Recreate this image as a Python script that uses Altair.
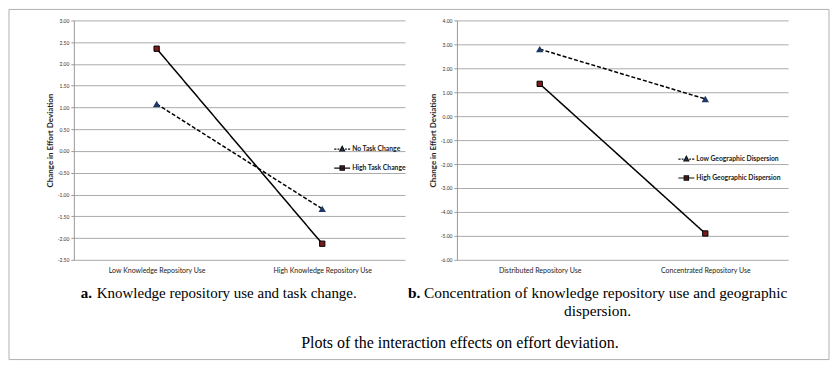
import altair as alt
import pandas as pd

# ---- data ----
cats_a = ["Low Knowledge Repository Use", "High Knowledge Repository Use"]
series_a = ["No Task Change", "High Task Change"]
no_task_change = [1.08, -1.33]
high_task_change = [2.35, -2.13]
ticks_a = [3.0, 2.5, 2.0, 1.5, 1.0, 0.5, 0.0, -0.5, -1.0, -1.5, -2.0, -2.5]

cats_b = ["Distributed Repository Use", "Concentrated Repository Use"]
series_b = ["Low Geographic Dispersion", "High Geographic Dispersion"]
low_geo = [2.80, 0.72]
high_geo = [1.35, -4.90]
ticks_b = [4, 3, 2, 1, 0, -1, -2, -3, -4, -5, -6]

y_title = "Change in Effort Deviation"
cap_a_bold = "a."
cap_a_text = "Knowledge repository use and task change."
cap_b_bold = "b."
cap_b_text1 = "Concentration of knowledge repository use and geographic"
cap_b_text2 = "dispersion."
cap_main = "Plots of the interaction effects on effort deviation."

NAVY = "#1f3864"
DARKRED = "#7a1c1c"
GRID = "#ababab"
SANS = "Lato"
SERIF = "Liberation Serif"

# legend symbols: line stub + marker
SYM_DASH_TRI = ("M-1,0H-0.72M-0.58,0H-0.36M0.36,0H0.58M0.72,0H1"
                "M0,-0.34L0.3,0.24L-0.3,0.24Z")
SYM_SOLID_SQ = "M-1,0H1M-0.27,-0.27H0.27V0.27H-0.27Z"


def make_df(cats, series, dashed_vals, solid_vals):
    rows = []
    for c, v in zip(cats, dashed_vals):
        rows.append({"cat": c, "series": series[0], "value": v})
    for c, v in zip(cats, solid_vals):
        rows.append({"cat": c, "series": series[1], "value": v})
    return pd.DataFrame(rows)


def panel(cats, series, dashed_vals, solid_vals, domain, ticks, lx, ly, extra):
    df = make_df(cats, series, dashed_vals, solid_vals)
    x = alt.X("cat:N", sort=cats,
              scale=alt.Scale(domain=cats, padding=0.5),
              axis=alt.Axis(title=None, domain=False, ticks=False, grid=False,
                            labelAngle=0, labelFont=SANS, labelFontSize=7,
                            labelColor="#222222", labelPadding=7))
    y = alt.Y("value:Q",
              scale=alt.Scale(domain=domain, nice=False, zero=False),
              axis=alt.Axis(values=ticks, title=y_title, titleFont=SANS,
                            titleFontSize=8, titleFontWeight="bold",
                            titleColor="#222222", titlePadding=3,
                            labelFont=SANS, labelFontSize=5, labelColor="#333333",
                            labelExpr="replace(format(datum.value, '.2f'), '\u2212', '-')",
                            labelPadding=2, grid=True, gridColor=GRID,
                            gridWidth=1, domainColor="#999999",
                            tickColor="#999999", tickSize=3))
    base = alt.Chart(df)
    lines = base.mark_line(color="black", strokeWidth=1.5).encode(
        x=x, y=y,
        strokeDash=alt.StrokeDash("series:N",
                                  scale=alt.Scale(domain=series, range=[[4, 2], [1, 0]]),
                                  legend=None))
    tri = base.transform_filter(alt.datum.series == series[0]).mark_point(
        shape="triangle-up", filled=True, size=55, color=NAVY, opacity=1
    ).encode(x=x, y=y)
    sq = base.transform_filter(alt.datum.series == series[1]).mark_point(
        shape="square", filled=True, size=28, fill=DARKRED, stroke="black",
        strokeWidth=1, opacity=1
    ).encode(x=x, y=y)
    leg = alt.Legend(title=None, orient="none", legendX=lx, legendY=ly,
                     symbolSize=256, symbolStrokeWidth=1.2, symbolOpacity=1,
                     labelFont=SANS, labelFontSize=6.8, labelFontWeight="bold",
                     labelColor="#222222", rowPadding=5, labelOffset=1)
    legend_layer = base.mark_point(filled=False, opacity=0, strokeWidth=1.2).encode(
        x=x, y=y,
        shape=alt.Shape("series:N",
                        scale=alt.Scale(domain=series, range=[SYM_DASH_TRI, SYM_SOLID_SQ]),
                        legend=leg),
        color=alt.Color("series:N",
                        scale=alt.Scale(domain=series, range=["#111111", "#111111"]),
                        legend=leg),
        fill=alt.Fill("series:N",
                      scale=alt.Scale(domain=series, range=[NAVY, DARKRED]),
                      legend=leg))
    return alt.layer(lines, tri, sq, legend_layer, *extra).properties(
        width=332, height=240)


one = alt.Data(values=[{}])

frame = alt.Chart(one).mark_rect(fill="transparent", stroke="#b0b0b0",
                                 strokeWidth=1).encode(
    x=alt.value(-65), x2=alt.value(757), y=alt.value(-11), y2=alt.value(340))

cap_a1 = alt.Chart(one).mark_text(text=cap_a_bold, font=SERIF, fontSize=15,
                                  fontWeight="bold", align="left",
                                  baseline="alphabetic", color="black").encode(
    x=alt.value(7), y=alt.value(278))
cap_a2 = alt.Chart(one).mark_text(text=cap_a_text, font=SERIF, fontSize=15,
                                  align="left", baseline="alphabetic",
                                  color="black").encode(
    x=alt.value(23), y=alt.value(278))
cap_m = alt.Chart(one).mark_text(text=cap_main, font=SERIF, fontSize=16,
                                 align="center", baseline="alphabetic",
                                 color="black").encode(
    x=alt.value(387), y=alt.value(328))

cap_b1 = alt.Chart(one).mark_text(text=cap_b_bold, font=SERIF, fontSize=15.4,
                                  fontWeight="bold", align="left",
                                  baseline="alphabetic", color="black").encode(
    x=alt.value(-49), y=alt.value(278))
cap_b2 = alt.Chart(one).mark_text(text=cap_b_text1, font=SERIF, fontSize=15.4,
                                  align="left", baseline="alphabetic",
                                  color="black").encode(
    x=alt.value(-33), y=alt.value(278))
cap_b3 = alt.Chart(one).mark_text(text=cap_b_text2, font=SERIF, fontSize=15.4,
                                  align="center", baseline="alphabetic",
                                  color="black").encode(
    x=alt.value(141), y=alt.value(296))

panel_a = panel(cats_a, series_a, no_task_change, high_task_change,
                [-2.5, 3.0], ticks_a, 260, 120, [frame, cap_a1, cap_a2, cap_m])
panel_b = panel(cats_b, series_b, low_geo, high_geo,
                [-6, 4], ticks_b, 221, 130, [cap_b1, cap_b2, cap_b3])

chart = alt.hconcat(panel_a, panel_b, spacing=52, bounds="flush").properties(
    padding=0, background="white"
).resolve_legend(shape="independent", color="independent", fill="independent").resolve_scale(
    shape="independent", color="independent", fill="independent"
).configure_view(strokeWidth=0)

chart.save("out.html", embed_options={"renderer": "svg", "actions": False})
